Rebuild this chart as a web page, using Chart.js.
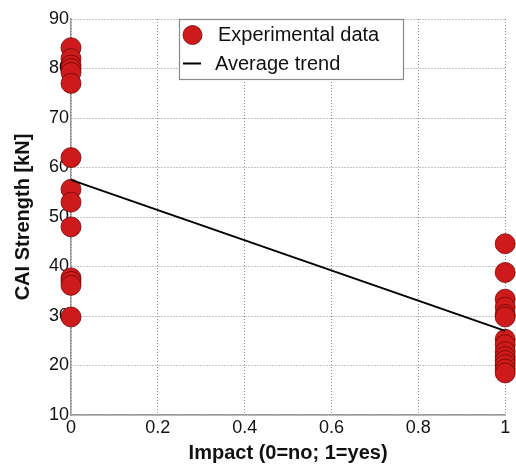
<!DOCTYPE html>
<html>
<head>
<meta charset="utf-8">
<script src="https://cdn.jsdelivr.net/npm/chart.js@4"></script>
<style>
html,body{margin:0;padding:0;background:#fff;}
#wrap{width:516px;height:466px;}
</style>
</head>
<body>
<div id="wrap"><canvas id="c" width="516" height="466"></canvas></div>
<script>
// Data
const noImpactStrength = [84.2, 82.0, 80.7, 80.0, 79.2, 77.0, 62.0, 55.6, 53.0, 48.0, 37.7, 37.0, 36.2, 29.8];
const impactStrength = [44.6, 38.8, 33.4, 31.8, 30.3, 29.8, 25.3, 24.2, 22.8, 21.8, 21.0, 20.2, 19.3, 18.5];
const trendX = [0, 1];
const trendY = [57.5, 27.0];
const xTicks = [0, 0.2, 0.4, 0.6, 0.8, 1];
const yTicks = [10, 20, 30, 40, 50, 60, 70, 80, 90];
const legendLabels = ['Experimental data', 'Average trend'];

const scatterPts = [];
noImpactStrength.forEach(v => scatterPts.push({x: 0, y: v}));
impactStrength.forEach(v => scatterPts.push({x: 1, y: v}));
const trendPts = trendX.map((x, i) => ({x: x, y: trendY[i]}));

const FONT = 'Liberation Sans, Arial, sans-serif';
const RED = 'rgb(206,26,26)';
const RED_EDGE = 'rgb(110,8,8)';

const legendPlugin = {
  id: 'boxLegend',
  afterDraw(chart) {
    const ctx = chart.ctx;
    ctx.save();
    const x0 = 179.5, y0 = 19.5, w = 224, h = 60;
    ctx.fillStyle = '#fff';
    ctx.fillRect(x0, y0, w, h);
    ctx.strokeStyle = '#8a8a8a';
    ctx.lineWidth = 1.2;
    ctx.strokeRect(x0, y0, w, h);
    ctx.beginPath();
    ctx.arc(192.5, 35, 9.5, 0, Math.PI * 2);
    ctx.fillStyle = RED;
    ctx.fill();
    ctx.strokeStyle = RED_EDGE;
    ctx.lineWidth = 0.8;
    ctx.stroke();
    ctx.beginPath();
    ctx.moveTo(183, 63.5);
    ctx.lineTo(201, 63.5);
    ctx.strokeStyle = '#000';
    ctx.lineWidth = 2;
    ctx.stroke();
    ctx.fillStyle = '#111';
    ctx.font = '20px ' + FONT;
    ctx.textBaseline = 'middle';
    ctx.textAlign = 'left';
    ctx.fillText(legendLabels[0], 218, 35);
    ctx.fillText(legendLabels[1], 215, 64);
    ctx.restore();
  }
};

new Chart(document.getElementById('c'), {
  type: 'scatter',
  data: {
    datasets: [
      {
        label: legendLabels[0],
        data: scatterPts,
        pointRadius: 10,
        pointHoverRadius: 10,
        backgroundColor: RED,
        borderColor: RED_EDGE,
        borderWidth: 0.8,
        clip: false,
        order: 2
      },
      {
        type: 'line',
        label: legendLabels[1],
        data: trendPts,
        borderColor: '#000',
        borderWidth: 2,
        pointRadius: 0,
        fill: false,
        clip: false,
        order: 1
      }
    ]
  },
  options: {
    responsive: false,
    animation: false,
    events: [],
    layout: {padding: {top: 19, right: 10, left: 0, bottom: 0}},
    plugins: {legend: {display: false}, tooltip: {enabled: false}},
    scales: {
      x: {
        type: 'linear',
        min: 0, max: 1,
        afterBuildTicks(s) { s.ticks = xTicks.map(v => ({value: v})); },
        afterFit(s) { s.height = 51; },
        ticks: {
          color: '#111',
          font: {family: FONT, size: 18},
          padding: 2,
          maxRotation: 0,
          callback: v => String(v)
        },
        grid: {color: '#8c8c8c', lineWidth: 1, drawTicks: false},
        border: {display: true, color: '#9a9a9a', width: 1.5, dash: [1, 2]},
        title: {
          display: true,
          text: 'Impact (0=no; 1=yes)',
          color: '#111',
          font: {family: FONT, size: 20, weight: 'bold'},
          padding: {top: 0, bottom: 1}
        }
      },
      y: {
        type: 'linear',
        min: 10, max: 90,
        afterBuildTicks(s) { s.ticks = yTicks.map(v => ({value: v})); },
        afterFit(s) { s.width = 71; },
        ticks: {
          color: '#111',
          font: {family: FONT, size: 18},
          padding: 2,
          callback: v => String(v)
        },
        grid: {color: '#8c8c8c', lineWidth: 1, drawTicks: false},
        border: {display: true, color: '#9a9a9a', width: 1.5, dash: [1, 2]},
        title: {
          display: true,
          text: 'CAI Strength [kN]',
          color: '#111',
          font: {family: FONT, size: 20, weight: 'bold'},
          padding: {top: 11, bottom: 0}
        }
      }
    }
  },
  plugins: [legendPlugin]
});
</script>
</body>
</html>
